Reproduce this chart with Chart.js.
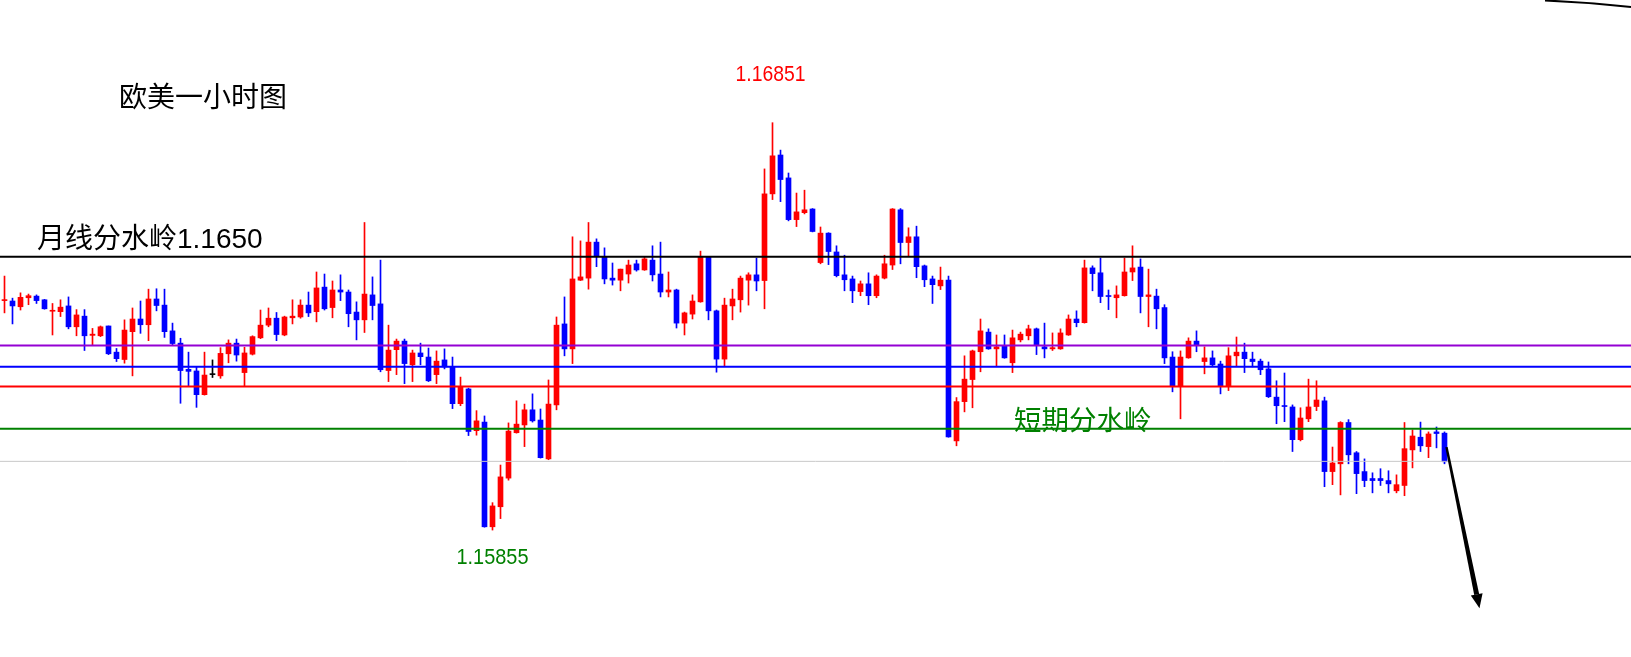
<!DOCTYPE html>
<html><head><meta charset="utf-8">
<script src="https://cdn.jsdelivr.net/npm/chart.js@4.4.0/dist/chart.umd.min.js"></script>
<style>html,body{margin:0;padding:0;background:#fff;overflow:hidden}#wrap{width:1631px;height:657px;position:relative}</style>
</head><body><div id="wrap"><canvas id="c"></canvas></div>
<script>
// EURUSD 1-hour candles (open / high / low / close)
const opens = [1.16416,1.16415,1.16401,1.16423,1.16427,1.16418,1.16390,1.16389,1.16403,1.16352,
1.16378,1.16331,1.16330,1.16354,1.16290,1.16272,1.16340,1.16371,1.16357,1.16420,
1.16405,1.16342,1.16312,1.16248,1.16244,1.16186,1.16235,1.16232,1.16286,1.16312,
1.16240,1.16285,1.16325,1.16356,1.16373,1.16332,1.16374,1.16376,1.16405,1.16389,
1.16449,1.16399,1.16442,1.16437,1.16388,1.16369,1.16430,1.16408,1.16245,1.16296,
1.16317,1.16259,1.16288,1.16278,1.16235,1.16271,1.16254,1.16164,1.16200,1.16098,
1.16119,1.15863,1.15912,1.15982,1.16093,1.16112,1.16149,1.16124,1.16029,1.16161,
1.16359,1.16298,1.16466,1.16471,1.16559,1.16523,1.16471,1.16466,1.16481,1.16506,
1.16491,1.16515,1.16481,1.16437,1.16442,1.16361,1.16383,1.16413,1.16523,1.16391,
1.16273,1.16403,1.16418,1.16466,1.16479,1.16465,1.16677,1.16772,1.16716,1.16614,
1.16631,1.16640,1.16509,1.16581,1.16535,1.16479,1.16469,1.16438,1.16457,1.16428,
1.16471,1.16503,1.16638,1.16558,1.16572,1.16501,1.16469,1.16452,1.16466,1.16073,
1.16169,1.16223,1.16291,1.16339,1.16298,1.16305,1.16264,1.16320,1.16330,1.16347,
1.16303,1.16298,1.16298,1.16332,1.16371,1.16362,1.16496,1.16484,1.16428,1.16423,
1.16428,1.16486,1.16498,1.16426,1.16427,1.16399,1.16278,1.16207,1.16276,1.16317,
1.16267,1.16276,1.16261,1.16206,1.16281,1.16290,1.16273,1.16268,1.16249,1.16180,
1.16159,1.16156,1.16076,1.16127,1.16157,1.16171,1.15998,1.16017,1.16118,1.16044,
1.15998,1.15981,1.15981,1.15976,1.15951,1.15964,1.16051,1.16082,1.16059,1.16095,
1.16092];
const highs = [1.16476,1.16422,1.16435,1.16432,1.16430,1.16419,1.16409,1.16418,1.16425,1.16394,
1.16394,1.16348,1.16354,1.16354,1.16299,1.16369,1.16398,1.16415,1.16444,1.16445,
1.16444,1.16361,1.16324,1.16290,1.16255,1.16290,1.16271,1.16301,1.16320,1.16322,
1.16302,1.16330,1.16393,1.16398,1.16387,1.16378,1.16418,1.16418,1.16437,1.16486,
1.16481,1.16464,1.16479,1.16442,1.16413,1.16607,1.16474,1.16515,1.16356,1.16322,
1.16322,1.16295,1.16312,1.16300,1.16293,1.16298,1.16278,1.16229,1.16202,1.16147,
1.16134,1.15922,1.16014,1.16117,1.16171,1.16163,1.16188,1.16151,1.16222,1.16376,
1.16425,1.16572,1.16562,1.16607,1.16567,1.16545,1.16508,1.16493,1.16515,1.16515,
1.16523,1.16550,1.16559,1.16486,1.16444,1.16388,1.16430,1.16537,1.16524,1.16393,
1.16422,1.16444,1.16476,1.16484,1.16520,1.16738,1.16851,1.16784,1.16728,1.16679,
1.16686,1.16641,1.16596,1.16582,1.16550,1.16527,1.16476,1.16464,1.16484,1.16479,
1.16527,1.16641,1.16641,1.16594,1.16598,1.16503,1.16476,1.16498,1.16476,1.16179,
1.16281,1.16295,1.16371,1.16347,1.16332,1.16332,1.16344,1.16339,1.16356,1.16349,
1.16361,1.16337,1.16347,1.16381,1.16391,1.16515,1.16501,1.16520,1.16442,1.16452,
1.16520,1.16550,1.16518,1.16493,1.16444,1.16406,1.16291,1.16293,1.16325,1.16342,
1.16303,1.16293,1.16268,1.16301,1.16327,1.16312,1.16290,1.16273,1.16266,1.16220,
1.16239,1.16161,1.16154,1.16224,1.16220,1.16180,1.16058,1.16120,1.16125,1.16047,
1.16029,1.15995,1.16005,1.16000,1.15990,1.16118,1.16100,1.16119,1.16095,1.16107,
1.16095];
const lows = [1.16386,1.16359,1.16393,1.16406,1.16409,1.16395,1.16332,1.16377,1.16347,1.16330,
1.16294,1.16307,1.16328,1.16284,1.16267,1.16263,1.16232,1.16336,1.16318,1.16391,
1.16326,1.16308,1.16165,1.16208,1.16155,1.16185,1.16228,1.16226,1.16264,1.16268,
1.16208,1.16283,1.16323,1.16352,1.16318,1.16330,1.16359,1.16373,1.16377,1.16364,
1.16393,1.16374,1.16416,1.16352,1.16320,1.16338,1.16369,1.16242,1.16218,1.16235,
1.16213,1.16218,1.16259,1.16218,1.16213,1.16249,1.16152,1.16159,1.16086,1.16087,
1.15862,1.15855,1.15883,1.15977,1.16092,1.16059,1.16119,1.16031,1.16027,1.16149,
1.16281,1.16262,1.16465,1.16444,1.16499,1.16457,1.16454,1.16440,1.16459,1.16488,
1.16490,1.16464,1.16425,1.16425,1.16349,1.16332,1.16371,1.16412,1.16369,1.16241,
1.16256,1.16369,1.16388,1.16405,1.16440,1.16396,1.16663,1.16658,1.16611,1.16597,
1.16628,1.16584,1.16506,1.16504,1.16474,1.16440,1.16411,1.16428,1.16406,1.16423,
1.16469,1.16492,1.16506,1.16525,1.16472,1.16450,1.16409,1.16443,1.16082,1.16061,
1.16144,1.16154,1.16242,1.16297,1.16257,1.16275,1.16240,1.16315,1.16320,1.16284,
1.16276,1.16294,1.16297,1.16331,1.16352,1.16361,1.16440,1.16411,1.16394,1.16374,
1.16427,1.16465,1.16386,1.16352,1.16347,1.16262,1.16193,1.16127,1.16275,1.16291,
1.16237,1.16257,1.16188,1.16196,1.16256,1.16240,1.16254,1.16235,1.16179,1.16115,
1.16120,1.16047,1.16073,1.16120,1.16147,1.15961,1.15966,1.15941,1.16017,1.15944,
1.15961,1.15946,1.15964,1.15946,1.15946,1.15939,1.16007,1.16047,1.16032,1.16056,
1.16017];
const closes = [1.16417,1.16403,1.16424,1.16428,1.16416,1.16396,1.16391,1.16400,1.16352,1.16381,
1.16330,1.16334,1.16352,1.16286,1.16274,1.16344,1.16371,1.16357,1.16420,1.16404,
1.16340,1.16311,1.16245,1.16243,1.16186,1.16234,1.16235,1.16287,1.16312,1.16283,
1.16288,1.16328,1.16356,1.16373,1.16333,1.16376,1.16378,1.16405,1.16386,1.16447,
1.16396,1.16442,1.16437,1.16384,1.16369,1.16432,1.16404,1.16247,1.16295,1.16317,
1.16262,1.16288,1.16279,1.16220,1.16268,1.16254,1.16164,1.16206,1.16096,1.16122,
1.15863,1.15914,1.15985,1.16097,1.16114,1.16149,1.16122,1.16032,1.16163,1.16356,
1.16298,1.16469,1.16474,1.16559,1.16525,1.16469,1.16466,1.16493,1.16503,1.16491,
1.16518,1.16479,1.16437,1.16442,1.16361,1.16386,1.16415,1.16523,1.16391,1.16273,
1.16405,1.16420,1.16471,1.16479,1.16464,1.16677,1.16770,1.16712,1.16614,1.16633,
1.16638,1.16585,1.16581,1.16536,1.16477,1.16467,1.16440,1.16457,1.16428,1.16476,
1.16506,1.16640,1.16558,1.16572,1.16499,1.16467,1.16455,1.16466,1.16083,1.16169,
1.16224,1.16293,1.16342,1.16298,1.16303,1.16276,1.16325,1.16334,1.16347,1.16306,
1.16298,1.16301,1.16337,1.16371,1.16362,1.16496,1.16482,1.16426,1.16426,1.16430,
1.16486,1.16496,1.16426,1.16430,1.16396,1.16276,1.16206,1.16278,1.16317,1.16307,
1.16276,1.16259,1.16208,1.16281,1.16290,1.16274,1.16267,1.16247,1.16181,1.16159,
1.16157,1.16076,1.16129,1.16156,1.16173,1.15998,1.16019,1.16118,1.16039,1.15993,
1.15976,1.15976,1.15976,1.15968,1.15966,1.16054,1.16085,1.16061,1.16090,1.16091,
1.16022];

// horizontal reference levels
const levelValues = [1.16523, 1.16306, 1.16254, 1.16206, 1.16103, 1.16023];
const levelNames  = ['月线分水岭', 'purple', 'blue', 'red', '短期分水岭', 'gray'];

// text labels
const titleText = '欧美一小时图';
const monthlyLabel = '月线分水岭1.1650';
const shortLabel = '短期分水岭';
const highLabel = '1.16851';
const lowLabel = '1.15855';

// ---------- styles ----------
const UP = '#ff0000', DOWN = '#0000ff', FLAT = '#000000';
const levelColors = ['#000000', '#9400d3', '#0000ff', '#ff0000', '#008000', '#c8c8c8'];
const levelWidths = [2, 2, 2, 2, 2, 1];

const n = opens.length;
const idx = opens.map((_, i) => i);
const colors = idx.map(i => closes[i] > opens[i] ? UP : (closes[i] < opens[i] ? DOWN : FLAT));
const X_MIN = -0.5625, X_MAX = X_MIN + 1631 / 8;
const Y_MAX = 1.17151, Y_MIN = Y_MAX - 657 * 0.00002445;

const datasets = [];
levelValues.forEach((v, k) => {
  datasets.push({
    type: 'line', label: levelNames[k],
    data: [{x: X_MIN, y: v}, {x: X_MAX, y: v}],
    borderColor: levelColors[k], borderWidth: levelWidths[k],
    pointRadius: 0, order: 0, tension: 0
  });
});
datasets.push({
  type: 'bar', label: 'body',
  data: idx.map(i => ({x: i, y: [opens[i], closes[i]]})),
  backgroundColor: colors, borderWidth: 0,
  barThickness: 5, grouped: false, minBarLength: 1, order: 1
});
datasets.push({
  type: 'bar', label: 'wick',
  data: idx.map(i => ({x: i, y: [lows[i], highs[i]]})),
  backgroundColor: colors, borderWidth: 0,
  barThickness: 1, grouped: false, order: 2
});

const annot = {
  id: 'annot',
  afterDraw(chart) {
    const {ctx} = chart;
    const xs = chart.scales.x, ys = chart.scales.y;
    ctx.save();
    // title
    ctx.fillStyle = '#000';
    ctx.textAlign = 'left';
    ctx.textBaseline = 'middle';
    ctx.font = '28px "Noto Sans CJK SC"';
    ctx.fillText(titleText, 119, 96);
    // monthly watershed label
    ctx.font = '28px "Liberation Sans", "Noto Sans CJK SC"';
    ctx.fillText(monthlyLabel, 37, 240);
    // short-term label
    ctx.fillStyle = '#008000';
    ctx.font = '27.5px "Noto Sans CJK SC"';
    ctx.fillText(shortLabel, 1014, 420);
    // high / low labels
    const hiI = highs.indexOf(Math.max(...highs));
    const loI = lows.indexOf(Math.min(...lows));
    ctx.textAlign = 'center';
    ctx.textBaseline = 'alphabetic';
    ctx.font = '22px "Liberation Sans", Arial, sans-serif';
    ctx.fillStyle = '#ff0000';
    ctx.fillText(highLabel, xs.getPixelForValue(hiI) - 2, ys.getPixelForValue(highs[hiI]) - 42, 70);
    ctx.fillStyle = '#008000';
    ctx.fillText(lowLabel, xs.getPixelForValue(loI), ys.getPixelForValue(lows[loI]) + 34, 72);
    // arrow from last candle
    const last = n - 1;
    const sx = xs.getPixelForValue(last) + 2, sy = ys.getPixelForValue(opens[last]) + 14;
    const ex = sx + 33, ey = sy + 161;
    const dx = ex - sx, dy = ey - sy, L = Math.hypot(dx, dy);
    const ux = dx / L, uy = dy / L, px = -uy, py = ux;
    const hl = 14, bx = ex - ux * hl, by = ey - uy * hl;
    ctx.fillStyle = '#000';
    ctx.beginPath();
    ctx.moveTo(sx + px * 1.2, sy + py * 1.2);
    ctx.lineTo(bx + px * 2.5, by + py * 2.5);
    ctx.lineTo(bx - px * 2.5, by - py * 2.5);
    ctx.lineTo(sx - px * 1.2, sy - py * 1.2);
    ctx.closePath();
    ctx.fill();
    ctx.beginPath();
    ctx.moveTo(ex, ey);
    ctx.lineTo(bx + px * 6, by + py * 6);
    ctx.lineTo(bx - px * 6, by - py * 6);
    ctx.closePath();
    ctx.fill();
    // top-right curve
    ctx.strokeStyle = '#000';
    ctx.lineWidth = 2;
    ctx.beginPath();
    ctx.moveTo(1545, 0.5);
    ctx.quadraticCurveTo(1590, 2.5, 1631, 7);
    ctx.stroke();
    ctx.restore();
  }
};

new Chart(document.getElementById('c'), {
  type: 'bar',
  data: {datasets},
  options: {
    responsive: true, maintainAspectRatio: false, animation: false, events: [],
    layout: {padding: 0},
    plugins: {legend: {display: false}, tooltip: {enabled: false}},
    scales: {
      x: {type: 'linear', min: X_MIN, max: X_MAX, display: false, offset: false},
      y: {type: 'linear', min: Y_MIN, max: Y_MAX, display: false}
    }
  },
  plugins: [annot]
});
</script>
</body></html>
